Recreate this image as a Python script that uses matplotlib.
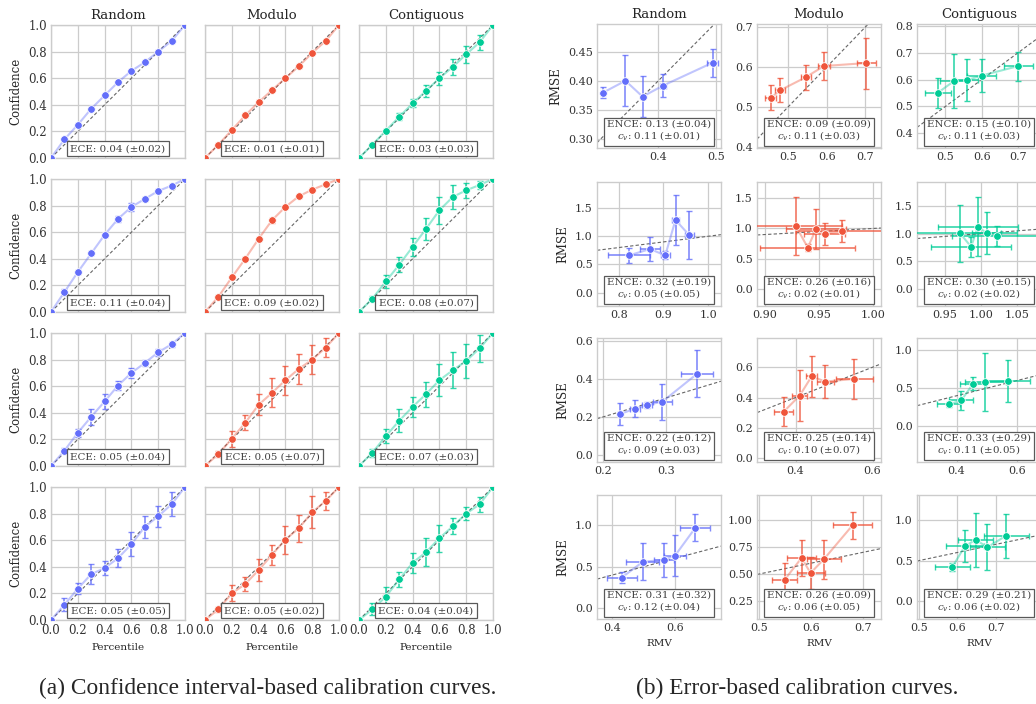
import matplotlib
matplotlib.use('Agg')
import matplotlib.pyplot as plt
import seaborn as sns

sns.set_style('whitegrid')
plt.rcParams['font.family'] = ['DejaVu Serif']
plt.rcParams['mathtext.fontset'] = 'dejavuserif'

splits = ['Random', 'Modulo', 'Contiguous']
colors = ['#636EFA', '#EF553B', '#00CC96']

# ---- (a) confidence interval-based calibration curves ----
percentiles = [0.1, 0.2, 0.3, 0.4, 0.5, 0.6, 0.7, 0.8, 0.9]

ci_random_mean = [
    [0.14, 0.25, 0.37, 0.47, 0.57, 0.655, 0.72, 0.80, 0.88],
    [0.15, 0.30, 0.44, 0.58, 0.70, 0.79, 0.85, 0.91, 0.95],
    [0.115, 0.25, 0.37, 0.485, 0.605, 0.70, 0.775, 0.855, 0.915],
    [0.115, 0.235, 0.345, 0.39, 0.465, 0.57, 0.70, 0.78, 0.87],
]
ci_random_err = [
    [0.01, 0.01, 0.01, 0.01, 0.01, 0.01, 0.01, 0.01, 0.01],
    [0.02, 0.015, 0.015, 0.015, 0.02, 0.03, 0.015, 0.015, 0.01],
    [0.02, 0.03, 0.06, 0.06, 0.035, 0.035, 0.02, 0.025, 0.02],
    [0.05, 0.04, 0.075, 0.055, 0.07, 0.09, 0.08, 0.08, 0.09],
]
ci_modulo_mean = [
    [0.10, 0.21, 0.32, 0.42, 0.51, 0.60, 0.69, 0.79, 0.88],
    [0.115, 0.26, 0.40, 0.55, 0.69, 0.79, 0.87, 0.92, 0.96],
    [0.09, 0.205, 0.325, 0.46, 0.55, 0.645, 0.73, 0.80, 0.89],
    [0.08, 0.20, 0.27, 0.375, 0.49, 0.605, 0.69, 0.81, 0.895],
]
ci_modulo_err = [
    [0.01, 0.01, 0.015, 0.015, 0.01, 0.01, 0.01, 0.01, 0.01],
    [0.01, 0.01, 0.01, 0.01, 0.02, 0.01, 0.01, 0.01, 0.01],
    [0.02, 0.06, 0.055, 0.08, 0.11, 0.11, 0.115, 0.11, 0.07],
    [0.02, 0.06, 0.05, 0.08, 0.075, 0.105, 0.10, 0.12, 0.065],
]
ci_contig_mean = [
    [0.10, 0.205, 0.31, 0.41, 0.505, 0.60, 0.685, 0.78, 0.87],
    [0.10, 0.23, 0.355, 0.49, 0.625, 0.765, 0.865, 0.915, 0.955],
    [0.10, 0.225, 0.34, 0.445, 0.54, 0.645, 0.72, 0.79, 0.885],
    [0.08, 0.175, 0.305, 0.43, 0.51, 0.615, 0.705, 0.80, 0.87],
]
ci_contig_err = [
    [0.01, 0.01, 0.025, 0.03, 0.045, 0.05, 0.06, 0.065, 0.055],
    [0.02, 0.05, 0.055, 0.07, 0.08, 0.10, 0.09, 0.055, 0.03],
    [0.03, 0.055, 0.085, 0.075, 0.095, 0.12, 0.135, 0.13, 0.10],
    [0.045, 0.07, 0.055, 0.075, 0.105, 0.10, 0.06, 0.05, 0.055],
]
ece_random = [(0.04, 0.02), (0.11, 0.04), (0.05, 0.04), (0.05, 0.05)]
ece_modulo = [(0.01, 0.01), (0.09, 0.02), (0.05, 0.07), (0.05, 0.02)]
ece_contig = [(0.03, 0.03), (0.08, 0.07), (0.07, 0.03), (0.04, 0.04)]

# ---- (b) error-based calibration curves ----
eb_random_rmv = [
    [0.304, 0.343, 0.3727, 0.408, 0.494],
    [0.8226, 0.87, 0.904, 0.927, 0.958],
    [0.227, 0.25, 0.27, 0.2936, 0.349],
    [0.43, 0.497, 0.564, 0.60, 0.665],
]
eb_random_rmse = [
    [0.3796, 0.40, 0.3727, 0.3916, 0.431],
    [0.66, 0.774, 0.66, 1.29, 1.018],
    [0.215, 0.243, 0.2635, 0.279, 0.426],
    [0.37, 0.558, 0.582, 0.633, 0.968],
]
eb_random_xerr = [
    [0.003, 0.003, 0.003, 0.005, 0.009],
    [0.047, 0.022, 0.01, 0.007, 0.01],
    [0.003, 0.008, 0.008, 0.015, 0.025],
    [0.048, 0.053, 0.032, 0.036, 0.048],
]
eb_random_yerr = [
    [0.01, 0.044, 0.035, 0.02, 0.024],
    [0.13, 0.21, 0.07, 0.45, 0.43],
    [0.06, 0.044, 0.015, 0.094, 0.124],
    [0.07, 0.22, 0.20, 0.25, 0.165],
]
eb_modulo_rmv = [
    [0.455, 0.48, 0.545, 0.593, 0.703],
    [0.9288, 0.94, 0.9477, 0.9557, 0.9718],
    [0.369, 0.411, 0.442, 0.477, 0.553],
    [0.549, 0.5815, 0.599, 0.625, 0.68],
]
eb_modulo_rmse = [
    [0.523, 0.542, 0.574, 0.6025, 0.61],
    [1.044, 0.685, 0.994, 0.91, 0.956],
    [0.3055, 0.413, 0.54, 0.505, 0.523],
    [0.4477, 0.648, 0.509, 0.638, 0.95],
]
eb_modulo_xerr = [
    [0.014, 0.013, 0.013, 0.016, 0.025],
    [0.043, 0.044, 0.028, 0.019, 0.043],
    [0.025, 0.02, 0.015, 0.022, 0.048],
    [0.024, 0.028, 0.027, 0.032, 0.037],
]
eb_modulo_yerr = [
    [0.031, 0.031, 0.031, 0.036, 0.064],
    [0.48, 0.06, 0.33, 0.18, 0.18],
    [0.095, 0.167, 0.134, 0.11, 0.132],
    [0.15, 0.17, 0.152, 0.18, 0.123],
]
eb_contig_rmv = [
    [0.48, 0.523, 0.558, 0.60, 0.70],
    [0.971, 0.9865, 0.996, 1.0084, 1.022],
    [0.374, 0.4156, 0.4556, 0.4956, 0.569],
    [0.587, 0.62, 0.648, 0.6783, 0.727],
]
eb_contig_rmse = [
    [0.5516, 0.594, 0.5975, 0.615, 0.65],
    [1.006, 0.762, 1.128, 1.006, 0.963],
    [0.285, 0.338, 0.561, 0.583, 0.592],
    [0.42, 0.68, 0.755, 0.665, 0.808],
]
eb_contig_xerr = [
    [0.035, 0.037, 0.032, 0.04, 0.04],
    [0.08, 0.056, 0.056, 0.02, 0.062],
    [0.039, 0.039, 0.043, 0.067, 0.075],
    [0.045, 0.05, 0.045, 0.045, 0.058],
]
eb_contig_yerr = [
    [0.056, 0.10, 0.078, 0.063, 0.054],
    [0.52, 0.18, 0.54, 0.38, 0.18],
    [0.035, 0.12, 0.09, 0.38, 0.28],
    [0.05, 0.20, 0.33, 0.28, 0.27],
]
ence_random = [(0.13, 0.04), (0.32, 0.19), (0.22, 0.12), (0.31, 0.32)]
ence_modulo = [(0.09, 0.09), (0.26, 0.16), (0.25, 0.14), (0.26, 0.09)]
ence_contig = [(0.15, 0.10), (0.30, 0.15), (0.33, 0.29), (0.29, 0.21)]
cv_random = [(0.11, 0.01), (0.05, 0.05), (0.09, 0.03), (0.12, 0.04)]
cv_modulo = [(0.11, 0.03), (0.02, 0.01), (0.10, 0.07), (0.06, 0.05)]
cv_contig = [(0.11, 0.03), (0.02, 0.02), (0.11, 0.05), (0.06, 0.02)]

# axis limits / ticks for (b)
rmv_lims = [
    [(0.2936, 0.5087), (0.751, 1.029), (0.19, 0.387), (0.351, 0.7465)],
    [(0.419, 0.741), (0.893, 1.0077), (0.30, 0.622), (0.4955, 0.735)],
    [(0.4217, 0.763), (0.911, 1.084), (0.269, 0.68), (0.4957, 0.817)],
]
rmse_lims = [
    [(0.2845, 0.4975), (-0.238, 1.964), (-0.037, 0.614), (-0.127, 1.359)],
    [(0.3967, 0.708), (-0.276, 1.765), (-0.026, 0.793), (0.084, 1.23)],
    [(0.345, 0.807), (-0.317, 1.94), (-0.474, 1.162), (-0.216, 1.306)],
]
rmv_ticks = [
    [[0.4, 0.5], [0.8, 0.9, 1.0], [0.2, 0.3], [0.4, 0.6]],
    [[0.5, 0.6, 0.7], [0.90, 0.95, 1.00], [0.4, 0.6], [0.5, 0.6, 0.7]],
    [[0.5, 0.6, 0.7], [0.95, 1.00, 1.05], [0.4, 0.6], [0.5, 0.6, 0.7]],
]
rmse_ticks = [
    [[0.30, 0.35, 0.40, 0.45], [0.0, 0.5, 1.0, 1.5], [0.0, 0.2, 0.4, 0.6], [0.0, 0.5, 1.0]],
    [[0.4, 0.5, 0.6, 0.7], [0.0, 0.5, 1.0, 1.5], [0.0, 0.2, 0.4, 0.6], [0.25, 0.50, 0.75, 1.00]],
    [[0.4, 0.5, 0.6, 0.7, 0.8], [0.0, 0.5, 1.0, 1.5], [0.0, 0.5, 1.0], [0.0, 0.5, 1.0]],
]

ci_means = [ci_random_mean, ci_modulo_mean, ci_contig_mean]
ci_errs = [ci_random_err, ci_modulo_err, ci_contig_err]
eces = [ece_random, ece_modulo, ece_contig]
eb_rmv = [eb_random_rmv, eb_modulo_rmv, eb_contig_rmv]
eb_rmse = [eb_random_rmse, eb_modulo_rmse, eb_contig_rmse]
eb_xerr = [eb_random_xerr, eb_modulo_xerr, eb_contig_xerr]
eb_yerr = [eb_random_yerr, eb_modulo_yerr, eb_contig_yerr]
ences = [ence_random, ence_modulo, ence_contig]
cvs = [cv_random, cv_modulo, cv_contig]

W, H = 1036, 704
fig = plt.figure(figsize=(W / 100, H / 100), dpi=100)


def place(x, y, w, h):
    return [x / W, 1 - (y + h) / H, w / W, h / H]


def style(ax):
    for s in ax.spines.values():
        s.set_color('0.8')
        s.set_linewidth(1.0)
    ax.grid(True, color='0.8', lw=0.9)
    ax.tick_params(length=0, pad=3, labelcolor='0.2')


box_kw = dict(boxstyle='square,pad=0.3', fc='white', ec='0.35', lw=0.9)

left_x = [51, 205, 359]
left_y = [25, 179, 333, 487]
for c in range(3):
    for r in range(4):
        ax = fig.add_axes(place(left_x[c], left_y[r], 134, 133))
        style(ax)
        col = colors[c]
        mean = ci_means[c][r]
        xs = [0.0] + percentiles + [1.0]
        ys = [0.0] + mean + [1.0]
        ax.plot([0, 1], [0, 1], ls=(0, (3, 2)), color='0.4', lw=0.8, zorder=2)
        ax.plot(xs, ys, color=col, alpha=0.4, lw=1.5, zorder=3)
        ax.errorbar(percentiles, mean, yerr=ci_errs[c][r], fmt='none', ecolor=col,
                    elinewidth=1.2, capsize=2.4, capthick=1.0, alpha=0.8, zorder=4)
        ax.plot(xs, ys, ls='none', marker='o', ms=5.5, color=col, mec='white', mew=0.6, zorder=5)
        ax.set_xlim(0, 1)
        ax.set_ylim(0, 1)
        ax.set_xticks([0, 0.2, 0.4, 0.6, 0.8, 1.0])
        ax.set_yticks([0, 0.2, 0.4, 0.6, 0.8, 1.0])
        ax.tick_params(labelsize=8.5)
        m, s = eces[c][r]
        ax.text(0.5, 0.07, f'ECE: {m:.2f} (±{s:.2f})', transform=ax.transAxes,
                ha='center', va='center', fontsize=7.4, color='0.25', bbox=box_kw, zorder=6)
        if r == 0:
            ax.set_title(splits[c], fontsize=9.5, pad=4, color='0.15')
        if c == 0:
            ax.set_ylabel('Confidence', fontsize=8.5, color='0.15')
        else:
            ax.set_yticklabels([])
        if r == 3:
            ax.set_xlabel('Percentile', fontsize=7.5, color='0.15')
        else:
            ax.set_xticklabels([])

right_x = [597, 757, 917]
right_y = [24, 182, 338, 495]
for c in range(3):
    for r in range(4):
        ax = fig.add_axes(place(right_x[c], right_y[r], 124, 124))
        style(ax)
        col = colors[c]
        ax.axline((0, 0), slope=1, ls=(0, (3, 2)), color='0.4', lw=0.8, zorder=2)
        ax.plot(eb_rmv[c][r], eb_rmse[c][r], color=col, alpha=0.4, lw=1.5, zorder=3)
        ax.errorbar(eb_rmv[c][r], eb_rmse[c][r], xerr=eb_xerr[c][r], yerr=eb_yerr[c][r],
                    fmt='none', ecolor=col, elinewidth=1.2, capsize=2.4, capthick=1.0,
                    alpha=0.8, zorder=4)
        ax.plot(eb_rmv[c][r], eb_rmse[c][r], ls='none', marker='o', ms=5.5, color=col,
                mec='white', mew=0.6, zorder=5)
        ax.set_xlim(*rmv_lims[c][r])
        ax.set_ylim(*rmse_lims[c][r])
        ax.set_xticks(rmv_ticks[c][r])
        ax.set_yticks(rmse_ticks[c][r])
        ax.tick_params(labelsize=8)
        e, es = ences[c][r]
        v, vs = cvs[c][r]
        ax.text(0.5, 0.137, f'ENCE: {e:.2f} (±{es:.2f})\n$c_v$: {v:.2f} (±{vs:.2f})',
                transform=ax.transAxes, ha='center', va='center', ma='center',
                fontsize=7.4, color='0.25', linespacing=1.1, bbox=box_kw, zorder=6)
        if r == 0:
            ax.set_title(splits[c], fontsize=9.5, pad=4, color='0.15')
        if c == 0:
            ax.set_ylabel('RMSE', fontsize=8.5, color='0.15')
        if r == 3:
            ax.set_xlabel('RMV', fontsize=7.5, color='0.15')

fig.text(268 / W, 1 - 688 / H, '(a) Confidence interval-based calibration curves.',
         ha='center', va='center', fontsize=16.8, family='Liberation Serif')
fig.text(797 / W, 1 - 688 / H, '(b) Error-based calibration curves.',
         ha='center', va='center', fontsize=16.8, family='Liberation Serif')

fig.savefig('out.png', dpi=100)
